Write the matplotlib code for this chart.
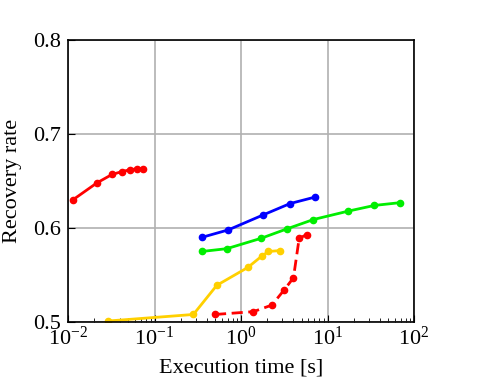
import matplotlib.pyplot as plt

plt.rcParams["font.family"] = ["Liberation Serif", "DejaVu Serif"]
plt.rcParams["mathtext.fontset"] = "stix"

# execution time [s] / recovery rate for each method
red_t = [0.0114, 0.0216, 0.0323, 0.0421, 0.0521, 0.0628, 0.0736]
red_r = [0.630, 0.648, 0.657, 0.660, 0.662, 0.663, 0.663]

blue_t = [0.351, 0.713, 1.81, 3.68, 7.23]
blue_r = [0.590, 0.598, 0.614, 0.626, 0.633]

green_t = [0.351, 0.684, 1.70, 3.37, 6.85, 17.4, 34.7, 69.5]
green_r = [0.575, 0.578, 0.589, 0.599, 0.609, 0.618, 0.624, 0.627]

yellow_t = [0.0287, 0.281, 0.524, 1.195, 1.73, 2.07, 2.82]
yellow_r = [0.501, 0.508, 0.539, 0.558, 0.570, 0.575, 0.576]

dash_t = [0.500, 1.39, 2.27, 3.14, 4.03, 4.69, 5.74]
dash_r = [0.508, 0.511, 0.518, 0.534, 0.547, 0.589, 0.593]

fig = plt.figure(figsize=(4.81, 3.9), dpi=100)
ax = fig.add_axes([0.1414, 0.1744, 0.7196, 0.723])

kw = dict(marker="o", markersize=4.5, linewidth=2)
ax.plot(red_t, red_r, color="#ff0000", **kw)
ax.plot(blue_t, blue_r, color="#0000ff", **kw)
ax.plot(green_t, green_r, color="#00ee00", **kw)
ax.plot(yellow_t, yellow_r, color="#ffd000", **kw)
ax.plot(dash_t, dash_r, color="#ff0000", linestyle=(0, (4, 2)), **kw)

ax.set_xscale("log")
ax.set_xlim(1e-2, 1e2)
ax.set_ylim(0.5, 0.8)
ax.set_yticks([0.5, 0.6, 0.7, 0.8])
ax.set_yticklabels(["0.5", "0.6", "0.7", "0.8"])
ax.grid(True, which="major", color="#b0b0b0", linewidth=1.2)
ax.set_axisbelow(True)
ax.tick_params(which="both", direction="in", labelsize=16)
ax.tick_params(which="major", length=5)
ax.tick_params(which="minor", length=3)
ax.tick_params(axis="y", pad=5)
for s in ax.spines.values():
    s.set_linewidth(1.2)

ax.set_xlabel("Execution time [s]", fontsize=16, labelpad=6)
ax.set_ylabel("Recovery rate", fontsize=16, labelpad=8)

fig.savefig("out.png", dpi=100)
